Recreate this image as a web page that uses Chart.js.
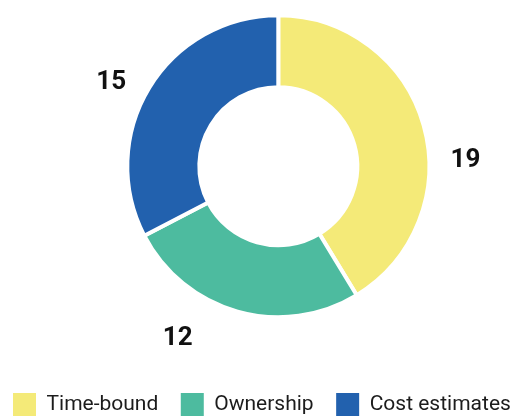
<!DOCTYPE html>
<html><head><meta charset="utf-8">
<script src="https://cdn.jsdelivr.net/npm/chart.js@4"></script>
<style>html,body{margin:0;padding:0;background:#fff;}#wrap{width:514px;height:418px;position:relative;}</style>
</head><body><div id="wrap"><canvas id="c"></canvas></div>
<script>
const categories = ['Time-bound', 'Ownership', 'Cost estimates'];
const values = [19, 12, 15];
const valueLabels = values.map(String);

const sliceLabels = {
  id: 'sliceLabels',
  afterDatasetsDraw(chart, args, opts) {
    const ctx = chart.ctx;
    const meta = chart.getDatasetMeta(0);
    ctx.save();
    ctx.font = 'bold 26px Roboto';
    ctx.fillStyle = opts.color;
    ctx.textAlign = 'center';
    ctx.textBaseline = 'alphabetic';
    meta.data.forEach((arc, i) => {
      const p = arc.getProps(['x', 'y', 'startAngle', 'endAngle', 'outerRadius'], true);
      const a = (p.startAngle + p.endAngle) / 2 + opts.angleShift[i] * Math.PI / 180;
      const d = p.outerRadius + opts.gap[i];
      const m = ctx.measureText(valueLabels[i]);
      ctx.fillText(valueLabels[i], p.x + Math.cos(a) * d, p.y + Math.sin(a) * d + m.actualBoundingBoxAscent / 2);
    });
    ctx.restore();
  }
};

new Chart(document.getElementById('c'), {
  type: 'doughnut',
  data: {
    labels: categories,
    datasets: [{
      data: values,
      backgroundColor: ['#F4EA78', '#4DBB9F', '#2261AE'],
      borderColor: '#ffffff',
      borderWidth: 4,
      radius: 151,
      cutout: '52.3%'
    }]
  },
  options: {
    responsive: true,
    maintainAspectRatio: false,
    animation: false,
    devicePixelRatio: 1,
    layout: { padding: { left: -9.5, right: -52, top: 0, bottom: -8 } },
    plugins: {
      tooltip: { enabled: false },
      title: {
        display: true,
        position: 'left',
        text: '',
        font: { size: 10, lineHeight: 1 },
        padding: { top: 42.1, bottom: 0 }
      },
      legend: {
        position: 'bottom',
        align: 'start',
        title: {
          display: true,
          text: '',
          font: { size: 10, lineHeight: 1 },
          padding: { top: 28.1, bottom: 0 }
        },
        labels: {
          boxWidth: 23,
          boxHeight: 23,
          padding: 22.5,
          color: '#1c1c1c',
          font: { family: 'Roboto', size: 21 },
          generateLabels(chart) {
            return Chart.overrides.doughnut.plugins.legend.labels.generateLabels(chart)
              .map(l => Object.assign(l, { lineWidth: 0 }));
          }
        }
      },
      sliceLabels: { color: '#111111', angleShift: [13, 15, -4], gap: [36.4, 46.2, 37] }
    }
  },
  plugins: [sliceLabels]
});
</script></body></html>
